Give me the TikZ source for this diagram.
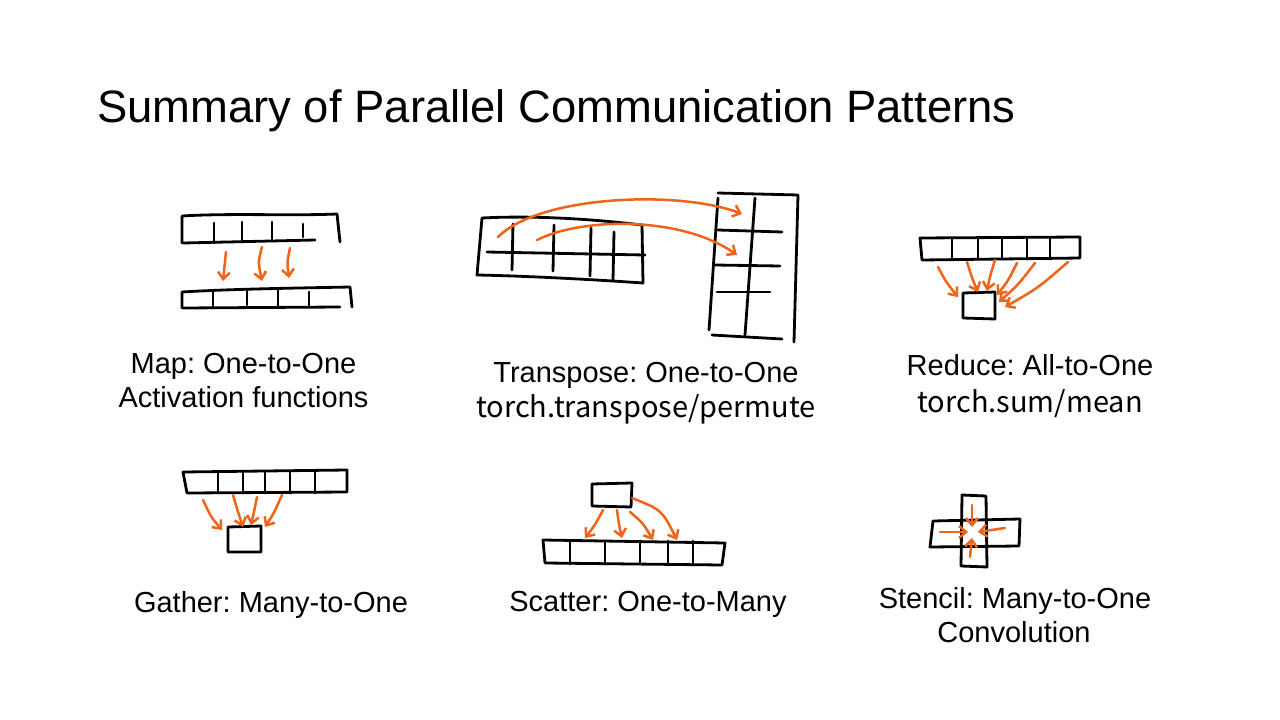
\documentclass[tikz,border=0pt]{standalone}
\usepackage{fontspec}
\setmainfont{Liberation Sans}
\newfontfamily\torchfont{Noto Sans CJK SC}
\usetikzlibrary{arrows.meta}
\definecolor{orng}{RGB}{240,100,25}
\frenchspacing
\begin{document}
\begin{tikzpicture}[x=1pt,y=-1pt,
 ink/.style={line width=2.8pt, line cap=round, line join=round, draw=black},
 oarr/.style={line width=2.5pt, line cap=round, draw=orng, -{Straight Barb[length=7pt,width=12pt,line width=2.5pt]}},
 lbl/.style={font=\fontsize{29}{34}\selectfont, anchor=base, inner sep=0pt},
 tlbl/.style={font=\torchfont\fontsize{29}{34}\selectfont, anchor=base, inner sep=0pt}]
\fill[white] (0,0) rectangle (1280,720);
\useasboundingbox (0,0) rectangle (1280,720);

% title
\node[anchor=base west, inner sep=0pt, font=\fontsize{45.4}{54}\selectfont] (title) at (97,122) {Summary of Parallel Communication Patterns};

% ---------------- Map ----------------
\draw[ink] (182,243) -- (182,216) .. controls (230,213) and (290,216) .. (337,214) -- (340,242);
\draw[ink] (183,243) -- (315,240);
\foreach \x/\a/\b in {214/223/243, 242/222/242, 272/222/241, 303/224/237} \draw[ink] (\x,\a) -- (\x,\b);
\draw[ink] (182,308) -- (182,292) .. controls (230,289) and (300,288) .. (350,287) -- (352,307);
\draw[ink] (183,308) -- (340,307);
\foreach \x/\a/\b in {213/292/308, 247/290/305, 278/289/306, 309/292/307} \draw[ink] (\x,\a) -- (\x,\b);
\draw[oarr] (226,252) -- (223,281);
\draw[oarr] (262,247) .. controls (258,262) .. (262,281);
\draw[oarr] (290,248) .. controls (287,262) .. (289,278);
\node[lbl] (mapA) at (243.5,373) {Map: One-to-One};
\node[lbl] (mapB) at (243.5,407) {Activation functions};

% ---------------- Transpose ----------------
\draw[ink] (482,218) .. controls (540,215) and (600,220) .. (642,225) -- (643,283) .. controls (600,280) and (530,276) .. (477,275) -- cycle;
\draw[ink] (487,252) -- (645,255);
\foreach \x/\a/\y/\b in {513/224/512/270, 554/225/553/271, 591/228/590/276, 614/232/613/280} \draw[ink] (\x,\a) -- (\y,\b);
\draw[ink] (718,193) -- (798,195) -- (794,342);
\draw[ink] (718,198) -- (709,330);
\draw[ink] (712,335) -- (782,339);
\draw[ink] (755,198) -- (745,335);
\draw[ink] (718,230) -- (782,232);
\draw[ink] (715,265) -- (780,266);
\draw[ink] (717,292) -- (770,292);
\draw[oarr] (498,237) .. controls (540,195) and (680,190) .. (742,214);
\draw[oarr] (537,240) .. controls (580,218) and (680,215) .. (737,255);
\node[lbl] (trA) at (646,382) {Transpose: One-to-One};
\node[tlbl] (trB) at (646,417) {torch.transpose/permute};

% ---------------- Reduce ----------------
\draw[ink] (920,238) -- (1080,237) -- (1080,258) -- (922,260) -- cycle;
\foreach \x in {952,978,1002,1027,1050} \draw[ink] (\x,239) -- (\x,259);
\draw[ink] (963,293) -- (995,292) -- (995,319) -- (963,318) -- cycle;
\draw[oarr] (938,267) .. controls (946,282) .. (958,297);
\draw[oarr] (967,262) .. controls (972,278) .. (978,292);
\draw[oarr] (995,260) .. controls (990,276) .. (987,291);
\draw[oarr] (1017,263) .. controls (1008,281) .. (997,295);
\draw[oarr] (1035,263) .. controls (1018,285) .. (999,302);
\draw[oarr] (1068,262) .. controls (1038,288) .. (1005,307);
\node[lbl] (redA) at (1030,375) {Reduce: All-to-One};
\node[tlbl] (redB) at (1030,412) {torch.sum/mean};

% ---------------- Gather ----------------
\draw[ink] (183,472) -- (347,470) -- (347,492) -- (187,493) -- cycle;
\foreach \x in {218,243,265,290,315} \draw[ink] (\x,472) -- (\x,493);
\draw[ink] (228,527) -- (261,526) -- (261,552) -- (228,552) -- cycle;
\draw[oarr] (203,500) .. controls (211,517) .. (222,530);
\draw[oarr] (233,495) .. controls (238,512) .. (243,527);
\draw[oarr] (257,497) .. controls (254,512) .. (251,525);
\draw[oarr] (282,495) .. controls (274,513) .. (265,527);
\node[lbl] (gat) at (271,612) {Gather: Many-to-One};

% ---------------- Scatter ----------------
\draw[ink] (592,484) -- (632,483) -- (631,507) -- (592,506) -- cycle;
\draw[ink] (543,540) -- (725,543) -- (722,565) -- (545,563) -- cycle;
\foreach \x in {570,605,640,668,693} \draw[ink] (\x,541) -- (\x,564);
\draw[oarr] (603,510) .. controls (595,525) .. (585,538);
\draw[oarr] (617,510) .. controls (619,525) .. (622,538);
\draw[oarr] (630,512) .. controls (643,523) .. (653,540);
\draw[oarr] (632,498) .. controls (662,510) .. (677,540);
\node[lbl] (sca) at (648,611) {Scatter: One-to-Many};

% ---------------- Stencil ----------------
\draw[ink] (962,495) -- (986,496) -- (987,567) -- (961,566) -- cycle;
\draw[ink] (933,521) -- (1020,519) -- (1019,546) -- (930,547) -- cycle;
\draw[oarr] (972,505) -- (972,527);
\draw[oarr] (940,532) -- (968,532);
\draw[oarr] (1005,528) -- (978,532);
\draw[oarr] (970,557) -- (972,538);
\node[lbl] (stA) at (1015,608) {Stencil: Many-to-One};
\node[lbl] (stB) at (1014,642) {Convolution};
\end{tikzpicture}
\end{document}
